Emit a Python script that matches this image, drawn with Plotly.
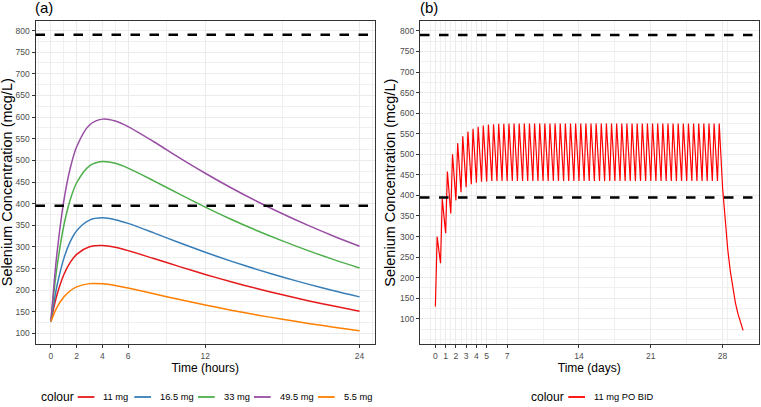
import plotly.graph_objects as go

# ---------------- Panel (a): single dose, time in hours ----------------
hours = [0, 0.25, 0.5, 1, 1.5, 2, 3, 4, 5, 6, 8, 10, 12, 14, 16, 18, 20, 22, 24]
conc_11mg = [128, 163.2, 192.3, 235.7, 264.4, 282.9, 300.2, 303.2, 299.0, 291.5,
             273.2, 254.5, 236.4, 219.5, 203.9, 189.3, 175.8, 163.3, 151.6]
conc_16_5mg = [128, 175.3, 214.4, 273.0, 312.2, 337.5, 362.0, 367.2, 363.0, 354.4,
               332.4, 309.5, 287.7, 267.2, 248.1, 230.4, 214.0, 198.7, 184.6]
conc_33mg = [128, 199.9, 259.4, 348.9, 409.0, 448.3, 487.5, 497.5, 493.2, 482.1,
             452.7, 422.0, 392.0, 364.0, 338.0, 313.9, 291.5, 270.7, 251.4]
conc_49_5mg = [128, 218.4, 293.3, 406.0, 481.7, 531.5, 581.8, 595.3, 590.9, 578.0,
               543.0, 505.8, 470.2, 436.7, 405.5, 376.6, 349.7, 324.8, 301.6]
conc_5_5mg = [128, 146.5, 161.8, 184.2, 198.8, 207.8, 215.2, 214.9, 210.9, 205.0,
              191.7, 178.5, 165.8, 153.9, 142.9, 132.8, 123.3, 114.5, 106.3]
dose_labels = ["11 mg", "16.5 mg", "33 mg", "49.5 mg", "5.5 mg"]

# ---------------- Panel (b): 11 mg PO BID, time in days ----------------
bid_label = "11 mg PO BID"
dose_interval_days = 0.5
n_doses = 56
peak_offset_days = 0.17
trough_conc = [130, 235, 308, 356, 388, 408, 420, 427, 431, 433, 434, 435,
               435, 435, 435, 435, 435, 435, 435, 435, 435, 435, 435, 435,
               435, 435, 435, 435, 435, 435, 435, 435, 435, 435, 435, 435,
               435, 435, 435, 435, 435, 435, 435, 435, 435, 435, 435, 435,
               435, 435, 435, 435, 435, 435, 435, 435]
peak_conc = [300, 392, 458, 500, 527, 544, 555, 562, 567, 570, 572, 573,
             574, 574, 575, 575, 575, 575, 575, 575, 575, 575, 575, 575,
             575, 575, 575, 575, 575, 575, 575, 575, 575, 575, 575, 575,
             575, 575, 575, 575, 575, 575, 575, 575, 575, 575, 575, 575,
             575, 575, 575, 575, 575, 575, 575, 575]
tail_days = [28.0, 28.25, 28.5, 28.75, 29.0, 29.25, 29.5, 29.75, 30.0]
tail_conc = [418, 336, 269, 216, 174, 139, 112, 90, 72]

thresholds = [790, 395]
hour_ticks = [0, 2, 4, 6, 12, 24]
day_ticks = [0, 1, 2, 3, 4, 5, 7, 14, 21, 28]
conc_ticks = list(range(100, 801, 50))
y_title = "Selenium Concentration (mcg/L)"

bid_x, bid_y = [], []
for k in range(n_doses):
    t = k * dose_interval_days
    bid_x += [t, t + peak_offset_days]
    bid_y += [trough_conc[k], peak_conc[k]]
bid_x += tail_days
bid_y += tail_conc

W, H = 761, 407
FONT = "Liberation Sans, Arial, sans-serif"
colors = ["#E41A1C", "#377EB8", "#4DAF4A", "#984EA3", "#FF7F00"]
series = [conc_11mg, conc_16_5mg, conc_33mg, conc_49_5mg, conc_5_5mg]

fig = go.Figure()
for lab, ys, c in zip(dose_labels, series, colors):
    fig.add_trace(go.Scatter(x=hours, y=ys, mode="lines", name=lab,
                             line=dict(color=c, width=1.5, shape="spline", smoothing=0.8),
                             xaxis="x", yaxis="y", showlegend=False))
fig.add_trace(go.Scatter(x=bid_x, y=bid_y, mode="lines", name=bid_label,
                         line=dict(color="#FF0000", width=1.2),
                         xaxis="x2", yaxis="y2", showlegend=False))

tickfont = dict(family=FONT, size=8.5, color="#4D4D4D")
xtitlefont = dict(family=FONT, size=12, color="#000000")
common = dict(showline=True, linecolor="#333333", linewidth=1, mirror=True,
              ticks="outside", ticklen=3, tickwidth=1, tickcolor="#333333",
              showgrid=True, gridcolor="#EBEBEB", gridwidth=1, zeroline=False,
              tickfont=tickfont, automargin=False)
minor_style = dict(showgrid=True, gridcolor="#F0F0F0", gridwidth=0.8, ticks="")

yminor = [50] + [v + 25 for v in range(50, 800, 50)]
P_TOP, P_BOT = 21, 344.3

fig.update_layout(
    width=W, height=H, margin=dict(l=0, r=0, t=0, b=0),
    paper_bgcolor="white", plot_bgcolor="white", showlegend=False,
    font=dict(family=FONT),
    xaxis=dict(domain=[35.5 / W, 375 / W], range=[-1.2, 25.2], tickvals=hour_ticks,
               minor=dict(tickvals=[-1, 1, 3, 5, 9, 18, 25], **minor_style),
               title=dict(text="Time (hours)", font=xtitlefont, standoff=4),
               anchor="y", **common),
    yaxis=dict(domain=[1 - P_BOT / H, 1 - P_TOP / H], range=[75, 822], tickvals=conc_ticks,
               minor=dict(tickvals=yminor, **minor_style),
               anchor="x", **common),
    xaxis2=dict(domain=[420 / W, 758.5 / W], range=[-1.5, 31.5], tickvals=day_ticks,
                minor=dict(tickvals=[-0.5, 0.5, 1.5, 2.5, 3.5, 4.5, 6, 10.5, 17.5, 24.5, 28.5],
                           **minor_style),
                title=dict(text="Time (days)", font=xtitlefont, standoff=4),
                anchor="y2", **common),
    yaxis2=dict(domain=[1 - P_BOT / H, 1 - P_TOP / H], range=[38, 824], tickvals=conc_ticks,
                minor=dict(tickvals=yminor, **minor_style),
                anchor="x2", **common),
)

for xr, yr in [("x", "y"), ("x2", "y2")]:
    for th in thresholds:
        fig.add_shape(type="line", xref=f"{xr} domain", yref=yr, x0=0, x1=1, y0=th, y1=th,
                      line=dict(color="black", width=2.5, dash="9.5px,9.5px"))

# y-axis titles
for xc in [6.5, 390]:
    fig.add_annotation(text=y_title, xref="paper", yref="paper", x=xc / W,
                       y=1 - (P_TOP + P_BOT) / 2 / H, xanchor="center", yanchor="middle",
                       textangle=-90, showarrow=False,
                       font=dict(family=FONT, size=14.5, color="#000"))

for txt, xpx in [("(a)", 33), ("(b)", 418)]:
    fig.add_annotation(text=txt, xref="paper", yref="paper", x=xpx / W, y=1, xanchor="left",
                       yanchor="top", yshift=3, showarrow=False,
                       font=dict(family=FONT, size=15, color="#000"))

# ---- legends (ggplot-style, drawn in paper space) ----
leg_y = 1 - 397 / H
def add_legend(title_left, items):
    fig.add_annotation(text="colour", xref="paper", yref="paper", x=title_left / W, y=leg_y,
                       xanchor="left", yanchor="middle", showarrow=False,
                       font=dict(family=FONT, size=12, color="#000"))
    for lab, col, x0 in items:
        fig.add_shape(type="line", xref="paper", yref="paper", x0=x0 / W, x1=(x0 + 16.7) / W,
                      y0=leg_y, y1=leg_y, line=dict(color=col, width=1.8))
        fig.add_annotation(text=lab, xref="paper", yref="paper", x=(x0 + 23.5) / W, y=leg_y,
                           xanchor="left", yanchor="middle", showarrow=False,
                           font=dict(family=FONT, size=9.3, color="#000"))

add_legend(38.5, list(zip(dose_labels, colors, [77.7, 134.3, 198, 254, 318])))
add_legend(528.5, [(bid_label, "#FF0000", 568.3)])

fig.write_html("out.html", config={"displayModeBar": False},
               post_script="document.body.style.margin='0';document.body.style.overflow='hidden';")
